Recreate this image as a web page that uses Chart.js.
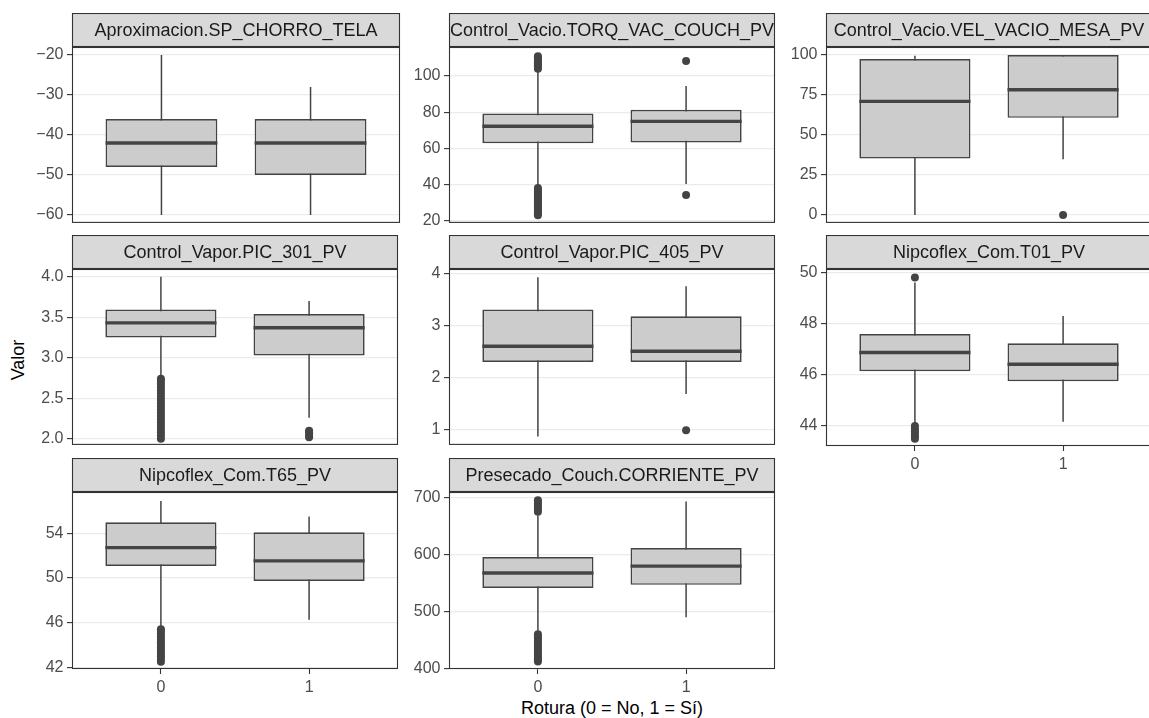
<!DOCTYPE html>
<html><head><meta charset="utf-8">
<script src="https://cdn.jsdelivr.net/npm/chart.js@4/dist/chart.umd.min.js"></script>
<style>
html,body{margin:0;padding:0;background:#fff;overflow:hidden;}
#wrap{position:relative;width:1149px;height:718px;overflow:hidden;background:#fff;font-family:"Liberation Sans",Arial,sans-serif;}
canvas{position:absolute;}
.title{position:absolute;font-size:18px;line-height:18px;color:#000;text-align:center;white-space:nowrap;}
</style></head><body>
<div id="wrap">
<div class="title" style="left:412px;top:699px;width:400px;">Rotura (0 = No, 1 = Sí)</div>
<div class="title" style="left:-32px;top:351px;width:100px;transform:rotate(-90deg);">Valor</div>
</div>
<script>
// ---------------- DATA ----------------
const panelTitles = [
  "Aproximacion.SP_CHORRO_TELA",
  "Control_Vacio.TORQ_VAC_COUCH_PV",
  "Control_Vacio.VEL_VACIO_MESA_PV",
  "Control_Vapor.PIC_301_PV",
  "Control_Vapor.PIC_405_PV",
  "Nipcoflex_Com.T01_PV",
  "Nipcoflex_Com.T65_PV",
  "Presecado_Couch.CORRIENTE_PV"
];
const groupLabels = ["0", "1"];      // Rotura categories (tick labels)
const groupPositions = [1, 2];        // discrete positions of the categories

// Group 0 (Rotura = 0)
const whiskerLowG0 = [-60, 39.2, 0,    2.77, 0.86, 44.07, 45.55, 466];
const q1G0         = [-48, 62.8, 35.2, 3.25, 2.295, 46.14, 51.08, 541.7];
const medianG0     = [-42, 72.2, 71.0, 3.43, 2.595, 46.87, 52.72, 568];
const q3G0         = [-36, 79.3, 97.5, 3.595, 3.30, 47.59, 54.98, 596];
const whiskerHighG0= [-20, 103.3, 99.6, 4.0, 3.92, 49.6, 56.9, 669];
const outliersG0 = [
  [],
  [104,105,106,107,108,109,110,111, 23,24,25,26,27,28,29,30,31,32,33,34,35,36,37,38],
  [],
  [2.00,2.04,2.08,2.12,2.16,2.20,2.24,2.28,2.32,2.36,2.40,2.44,2.48,2.52,2.56,2.60,2.64,2.68,2.72,2.74],
  [],
  [49.8, 43.5,43.6,43.7,43.8,43.9,44.0],
  [42.5,42.75,43.0,43.25,43.5,43.75,44.0,44.25,44.5,44.75,45.0,45.25,45.4],
  [676,680,684,688,692,696, 412,416,420,424,428,432,436,440,444,448,452,456,460]
];

// Group 1 (Rotura = 1)
const whiskerLowG1 = [-60, 40.2, 34.8, 2.26, 1.68, 44.17, 46.25, 490];
const q1G1         = [-50, 63.2, 60.7, 3.027, 2.295, 45.75, 49.74, 547];
const medianG1     = [-42, 74.9, 78.3, 3.37, 2.50, 46.41, 51.53, 580];
const q3G1         = [-36, 81.3, 100, 3.54, 3.17, 47.23, 54.09, 611.8];
const whiskerHighG1= [-28, 94.5, 100, 3.70, 3.75, 48.3, 55.5, 694];
const outliersG1 = [
  [],
  [108.4, 34.1],
  [0],
  [2.02, 2.05, 2.08, 2.10],
  [0.98],
  [],
  [],
  []
];

// Y axis ticks and labels per panel
const yTicks = [
  [-60,-50,-40,-30,-20],
  [20,40,60,80,100],
  [0,25,50,75,100],
  [2.0,2.5,3.0,3.5,4.0],
  [1,2,3,4],
  [44,46,48,50],
  [42,46,50,54],
  [400,500,600,700]
];
const yTickLabels = [
  ["−60","−50","−40","−30","−20"],
  ["20","40","60","80","100"],
  ["0","25","50","75","100"],
  ["2.0","2.5","3.0","3.5","4.0"],
  ["1","2","3","4"],
  ["44","46","48","50"],
  ["42","46","50","54"],
  ["400","500","600","700"]
];
const yMin = [-62, 18.7, -5, 1.925, 0.70, 43.22, 41.85, 398.8];
const yMax = [-18, 116.1, 105, 4.095, 4.08, 50.13, 57.7, 710.6];

// ---------------- LAYOUT / STYLE ----------------
const colLeft = [72, 449, 826];
const rowTop = [13, 235, 458];
const panelCol = [0,1,2,0,1,2,0,1];
const panelRow = [0,0,0,1,1,1,2,2];
const showXAxis = [false,false,false,false,false,true,true,true];
const AXIS_W = 60, PLOT_W = 328, PLOT_H = 177, STRIP_H = 34, PAD_R = 2, XAXIS_H = 30, GAP_B = 12;
const X_MIN = 0.4, X_MAX = 2.6, BOX_W = 0.75;
const LINE_COL = '#444444', BOX_FILL = '#cccccc', FONT = '"Liberation Sans", Arial, sans-serif';

Chart.defaults.font.family = FONT;
Chart.defaults.font.size = 16;
Chart.defaults.color = '#4d4d4d';

const panelDecor = {
  id: 'panelDecor',
  afterDraw(chart, args, opts) {
    const {ctx, chartArea: a} = chart;
    ctx.save();
    ctx.fillStyle = '#d9d9d9';
    ctx.fillRect(a.left, a.top - STRIP_H, a.right - a.left, STRIP_H);
    ctx.strokeStyle = '#333333';
    ctx.lineWidth = 1.1;
    ctx.strokeRect(a.left + 0.5, a.top - STRIP_H + 0.5, a.right - a.left - 1, STRIP_H - 1);
    ctx.strokeRect(a.left + 0.5, a.top + 0.5, a.right - a.left - 1, a.bottom - a.top - 1);
    ctx.fillStyle = '#1a1a1a';
    ctx.font = '18px ' + FONT;
    ctx.textAlign = 'center';
    ctx.textBaseline = 'middle';
    ctx.fillText(opts.title, (a.left + a.right) / 2, a.top - STRIP_H / 2 + 1);
    ctx.restore();
  }
};

const wrap = document.getElementById('wrap');

function buildPanel(i) {
  const bottom = showXAxis[i];
  const w = AXIS_W + PLOT_W + PAD_R;
  const h = STRIP_H + PLOT_H + (bottom ? XAXIS_H : GAP_B);
  const canvas = document.createElement('canvas');
  canvas.width = w; canvas.height = h;
  canvas.style.left = (colLeft[panelCol[i]] - AXIS_W) + 'px';
  canvas.style.top = rowTop[panelRow[i]] + 'px';
  canvas.style.width = w + 'px'; canvas.style.height = h + 'px';
  wrap.appendChild(canvas);

  const lo = [whiskerLowG0[i], whiskerLowG1[i]];
  const q1 = [q1G0[i], q1G1[i]];
  const md = [medianG0[i], medianG1[i]];
  const q3 = [q3G0[i], q3G1[i]];
  const hi = [whiskerHighG0[i], whiskerHighG1[i]];
  const outs = [outliersG0[i], outliersG1[i]];
  const gap = {x: (groupPositions[0] + groupPositions[1]) / 2, y: null};

  const whiskers = [];
  const medians = [];
  groupPositions.forEach((p, g) => {
    if (g > 0) { whiskers.push(gap); medians.push(gap); }
    whiskers.push({x: p, y: lo[g]}, {x: p, y: hi[g]});
    medians.push({x: p - BOX_W / 2, y: md[g]}, {x: p + BOX_W / 2, y: md[g]});
  });
  const outlierPts = [];
  groupPositions.forEach((p, g) => outs[g].forEach(v => outlierPts.push({x: p, y: v})));

  const xScale = {
    type: 'linear', min: X_MIN, max: X_MAX, display: bottom, offset: false,
    afterBuildTicks: s => { s.ticks = groupPositions.map(v => ({value: v})); },
    grid: {offset: false, drawOnChartArea: false, drawTicks: true, tickLength: 5, tickColor: '#333333', tickWidth: 1.1, color: '#333333'},
    border: {display: false},
    ticks: {padding: 4, color: '#4d4d4d', font: {size: 16}, autoSkip: false, maxRotation: 0,
            callback: (v, idx) => groupLabels[idx]}
  };
  if (bottom) xScale.afterFit = s => { s.height = XAXIS_H; };

  new Chart(canvas, {
    type: 'bar',
    data: {
      datasets: [
        {type: 'line', data: whiskers, borderColor: LINE_COL, borderWidth: 1.5, pointRadius: 0, spanGaps: false, fill: false, tension: 0, order: 3},
        {type: 'bar', data: groupPositions.map((p, g) => ({x: p, y: [q1[g], q3[g]]})),
         backgroundColor: BOX_FILL, borderColor: LINE_COL, borderWidth: 1.7, borderSkipped: false,
         categoryPercentage: 1, barPercentage: BOX_W, order: 2},
        {type: 'line', data: medians, borderColor: LINE_COL, borderWidth: 3.4, borderCapStyle: 'butt', pointRadius: 0, spanGaps: false, fill: false, tension: 0, order: 1},
        {type: 'scatter', data: outlierPts, pointRadius: 4, backgroundColor: LINE_COL, borderWidth: 0, order: 0}
      ]
    },
    options: {
      responsive: false, animation: false, devicePixelRatio: 1, events: [],
      layout: {padding: {top: STRIP_H, right: PAD_R, bottom: bottom ? 0 : GAP_B, left: 0}},
      plugins: {legend: {display: false}, tooltip: {enabled: false}, panelDecor: {title: panelTitles[i]}},
      scales: {
        x: xScale,
        y: {
          type: 'linear', min: yMin[i], max: yMax[i], beginAtZero: false,
          afterBuildTicks: s => { s.ticks = yTicks[i].map(v => ({value: v})); },
          afterFit: s => { s.width = AXIS_W; },
          grid: {color: '#ebebeb', lineWidth: 1.2, drawTicks: true, tickLength: 5, tickColor: '#333333', tickWidth: 1.1},
          border: {display: false},
          ticks: {padding: 3.5, color: '#4d4d4d', font: {size: 16}, autoSkip: false,
                  callback: (v, idx) => yTickLabels[i][idx]}
        }
      }
    },
    plugins: [panelDecor]
  });
}

for (let i = 0; i < panelTitles.length; i++) buildPanel(i);
</script>
</body></html>
